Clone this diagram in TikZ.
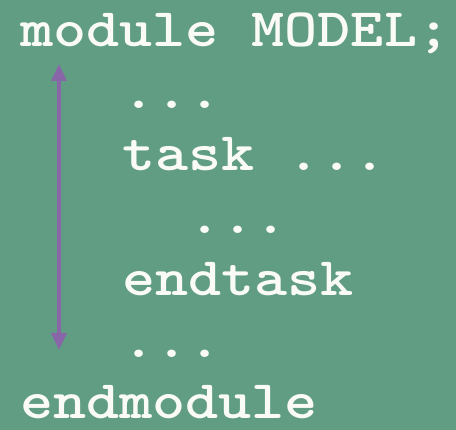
\documentclass[tikz,border=0pt]{standalone}
\usepackage{fontspec}
\usetikzlibrary{arrows.meta}
\definecolor{slate}{RGB}{96,157,131}
\definecolor{violetline}{RGB}{136,102,168}
\definecolor{codewhite}{RGB}{250,250,246}
\newcommand{\codeline}[1]{\scalebox{1}[0.86]{#1}}
\tikzset{
  code/.style={anchor=base west, inner sep=0pt, text depth=0pt, text=codewhite,
    font=\fontsize{63}{63}\selectfont\ttfamily\bfseries},
  scopearrow/.style={draw=violetline, line width=3.4pt,
    {Triangle[length=17pt,width=15pt]}-{Triangle[length=17pt,width=15pt]}}
}
\begin{document}
\begin{tikzpicture}[x=1pt,y=-1pt]
  \fill[slate] (0,0) rectangle (456,430);
  \useasboundingbox (0,0) rectangle (456,430);
  \node[code] (l1) at (20,47)  {\codeline{module MODEL;}};
  \node[code] (l2) at (122,109) {\codeline{...}};
  \node[code] (l3) at (122,171) {\codeline{task ...}};
  \node[code] (l4) at (188,234) {\codeline{...}};
  \node[code] (l5) at (122,296) {\codeline{endtask}};
  \node[code] (l6) at (122,358) {\codeline{...}};
  \node[code] (l7) at (20,419) {\codeline{endmodule}};
  \coordinate (top) at (59,64);
  \coordinate (bottom) at (59,350);
  \draw[scopearrow] (top) -- (bottom);
\end{tikzpicture}
\end{document}
